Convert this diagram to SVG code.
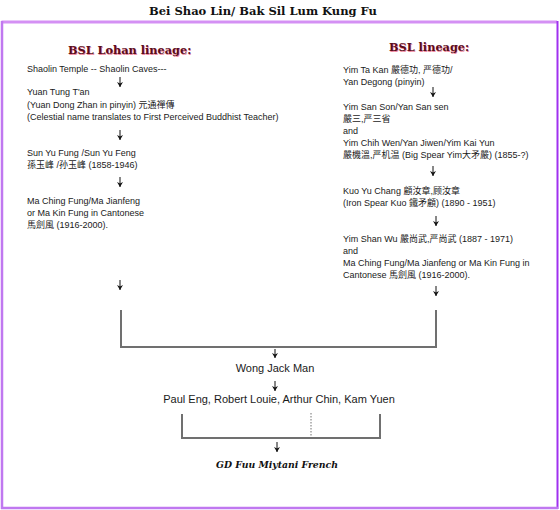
<svg xmlns="http://www.w3.org/2000/svg" width="560" height="510" viewBox="0 0 560 510">
<defs>
<style>
.t{font-family:"Liberation Sans","Noto Sans CJK SC",sans-serif;font-size:9px;fill:#1a1a1a}
.big{font-size:11px}
.cal{font-family:"DejaVu Serif",serif;font-weight:bold;fill:#111}
.hd{font-family:"DejaVu Serif",serif;font-weight:bold;font-size:11.3px;fill:#5a0c1c}
.hs{font-family:"DejaVu Serif",serif;font-weight:bold;font-size:11.3px;fill:#f08aa0}
.ar{stroke:#111;stroke-width:1;fill:none;marker-end:url(#ah)}
.ln{stroke:#707070;stroke-width:2;fill:none}
</style>
<marker id="ah" viewBox="0 0 5 6" refX="5" refY="3" markerWidth="5" markerHeight="6" markerUnits="userSpaceOnUse" orient="auto">
<path d="M0,0 L5,3 L0,6 L1.5,3 Z" fill="#111"/>
</marker>
</defs>
<rect width="560" height="510" fill="#fff"/>
<g id="frame">
<line x1="1.5" y1="22" x2="557" y2="22" stroke="#d490f4" stroke-width="3"/>
<line x1="2" y1="21" x2="2" y2="509" stroke="#c078f0" stroke-width="2.5"/>
<line x1="557.5" y1="21" x2="557.5" y2="509" stroke="#a030f0" stroke-width="2"/>
<line x1="1" y1="508" x2="558" y2="508" stroke="#c078f0" stroke-width="2.5"/>
</g>
<g id="title"><text class="cal" x="263" y="15" font-size="11.5" text-anchor="middle">Bei Shao Lin/ Bak Sil Lum Kung Fu</text></g>
<g id="head-left"><text class="hs" x="68.7" y="54.7">BSL Lohan lineage:</text><text class="hd" x="68" y="54">BSL Lohan lineage:</text></g>
<g id="head-right"><text class="hs" x="389.7" y="51.7">BSL lineage:</text><text class="hd" x="389" y="51">BSL lineage:</text></g>
<g id="n-shaolin"><text class="t" x="27" y="72">Shaolin Temple -- Shaolin Caves---</text></g>
<g id="n-yuan"><text class="t" x="27" y="95">Yuan Tung T'an</text><text class="t" x="27" y="107.5">(Yuan Dong Zhan in pinyin) 元通禪傳</text><text class="t" x="27" y="120">(Celestial name translates to First Perceived Buddhist Teacher)</text></g>
<g id="n-sun"><text class="t" x="27" y="156">Sun Yu Fung /Sun Yu Feng</text><text class="t" x="27" y="167.5">孫玉峰 /孙玉峰 (1858-1946)</text></g>
<g id="n-ma-left"><text class="t" x="27" y="204">Ma Ching Fung/Ma Jianfeng</text><text class="t" x="27" y="216">or Ma Kin Fung in Cantonese</text><text class="t" x="27" y="227.5">馬劍風 (1916-2000).</text></g>
<g id="n-yimtakan"><text class="t" x="343" y="73">Yim Ta Kan 嚴德功, 严德功/</text><text class="t" x="343" y="85">Yan Degong (pinyin)</text></g>
<g id="n-yimsanson"><text class="t" x="343" y="110">Yim San Son/Yan San sen</text><text class="t" x="343" y="122"> 嚴三,严三省</text><text class="t" x="343" y="134">and</text><text class="t" x="343" y="146">Yim Chih Wen/Yan Jiwen/Yim Kai Yun</text><text class="t" x="343" y="158">嚴機溫,严机温 (Big Spear Yim大矛嚴) (1855-?)</text></g>
<g id="n-kuo"><text class="t" x="343" y="194">Kuo Yu Chang 顧汝章,顾汝章</text><text class="t" x="343" y="206">(Iron Spear Kuo 鐵矛顧) (1890 - 1951)</text></g>
<g id="n-yimshanwu"><text class="t" x="343" y="242">Yim Shan Wu 嚴尚武,严尚武 (1887 - 1971)</text><text class="t" x="343" y="254">and</text><text class="t" x="343" y="266">Ma Ching Fung/Ma Jianfeng or Ma Kin Fung in</text><text class="t" x="343" y="277.5">Cantonese  馬劍風 (1916-2000).</text></g>
<g id="n-wong"><text class="t big" x="275" y="372" text-anchor="middle">Wong Jack Man</text></g>
<g id="n-students"><text class="t big" x="279" y="403" text-anchor="middle">Paul Eng, Robert Louie, Arthur Chin,  Kam Yuen</text></g>
<g id="n-gd"><text class="cal" x="277" y="468" font-size="9.3" font-style="italic" text-anchor="middle">GD Fuu Miytani French</text></g>
<g id="connectors">
<path class="ar" d="M120,77 V87"/>
<path class="ar" d="M120,130 V140"/>
<path class="ar" d="M120,177 V187"/>
<path class="ar" d="M120,280 V290"/>
<path class="ar" d="M433,87 V97"/>
<path class="ar" d="M433,166 V176"/>
<path class="ar" d="M436,216 V226"/>
<path class="ar" d="M436,286 V296"/>
<path class="ln" d="M121,310 V347 H436 V310"/>
<path class="ar" d="M275,349 V358"/>
<path class="ar" d="M275,381 V391"/>
<path class="ln" d="M182,414 V438 H380 V414" stroke-width="1.5"/>
<path d="M311,413 V437" stroke="#707070" stroke-width="1" stroke-dasharray="1.5,1.5"/>
<path class="ar" d="M277,442 V452"/>
</g>
</svg>
